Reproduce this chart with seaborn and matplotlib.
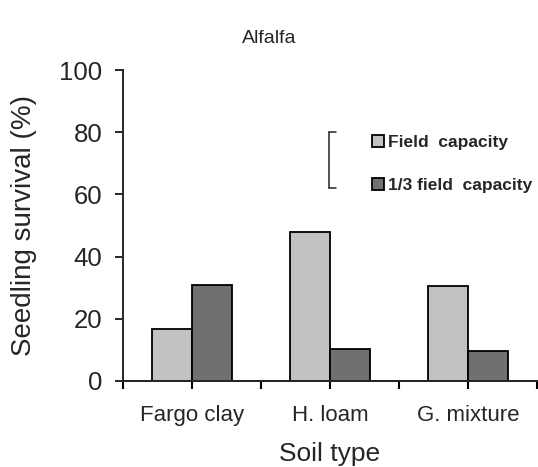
import matplotlib
matplotlib.use('Agg')
import matplotlib.pyplot as plt
import pandas as pd
import seaborn as sns

# data
soil_types = ['Fargo clay', 'H. loam', 'G. mixture']
field_capacity = [16.7, 47.8, 30.4]
third_field_capacity = [31.0, 10.2, 9.7]
series_names = ['Field  capacity', '1/3 field  capacity']
lsd_top = 80.0
lsd_value = 18.0

df = pd.DataFrame({
    'soil': soil_types * 2,
    'survival': field_capacity + third_field_capacity,
    'treatment': [series_names[0]] * 3 + [series_names[1]] * 3,
})

sns.set_style('ticks')
plt.rcParams['font.family'] = ['Liberation Sans', 'DejaVu Sans']

fig = plt.figure(figsize=(5.38, 4.67), dpi=100)
ax = fig.add_axes([0.2286, 0.1842, 0.7694, 0.6659])

sns.barplot(data=df, x='soil', y='survival', hue='treatment', ax=ax,
            palette=['#c2c2c2', '#707070'], width=0.586,
            edgecolor='black', linewidth=1.3, saturation=1)

# LSD bar drawn as a bracket
x_lsd = 0.99
ax.plot([x_lsd, x_lsd], [lsd_top - lsd_value, lsd_top], color='#222222', lw=1.1)
ax.plot([x_lsd, x_lsd + 0.055], [lsd_top, lsd_top], color='#222222', lw=1.1)
ax.plot([x_lsd, x_lsd + 0.055], [lsd_top - lsd_value, lsd_top - lsd_value], color='#222222', lw=1.1)

ax.set_xlim(-0.5, 2.5)
ax.set_ylim(0, 100)
ax.set_yticks([0, 20, 40, 60, 80, 100])
ax.set_xticks([0, 1, 2], soil_types)
ax.tick_params(axis='y', labelsize=18.5, length=6, width=1.4, pad=9, direction='out')
ax.tick_params(axis='x', labelsize=16, length=0, pad=17)

# tick marks at category centres and boundaries
sec = ax.secondary_xaxis('bottom')
sec.set_xticks([-0.5, 0, 0.5, 1, 1.5, 2, 2.5], [''] * 7)
sec.tick_params(axis='x', length=6, width=1.5, direction='out', color='black')
sec.spines['bottom'].set_linewidth(1.4)

for side in ['top', 'right']:
    ax.spines[side].set_visible(False)
for side in ['left', 'bottom']:
    ax.spines[side].set_linewidth(1.4)

ax.set_xlabel('Soil type', fontsize=19, labelpad=12)
ax.set_ylabel('Seedling survival (%)', fontsize=20, labelpad=16)
fig.text(0.5, 0.918, 'Alfalfa', fontsize=14, ha='center', va='center')

handles, labels = ax.get_legend_handles_labels()
ax.legend(handles, labels, loc='upper left', bbox_to_anchor=(0.675, 0.73),
          bbox_transform=fig.transFigure, frameon=False,
          prop={'weight': 'bold', 'size': 12.5}, handlelength=0.7, handleheight=0.7,
          handletextpad=0.25, labelspacing=1.6, borderpad=0)

fig.savefig('out.png', dpi=100)
